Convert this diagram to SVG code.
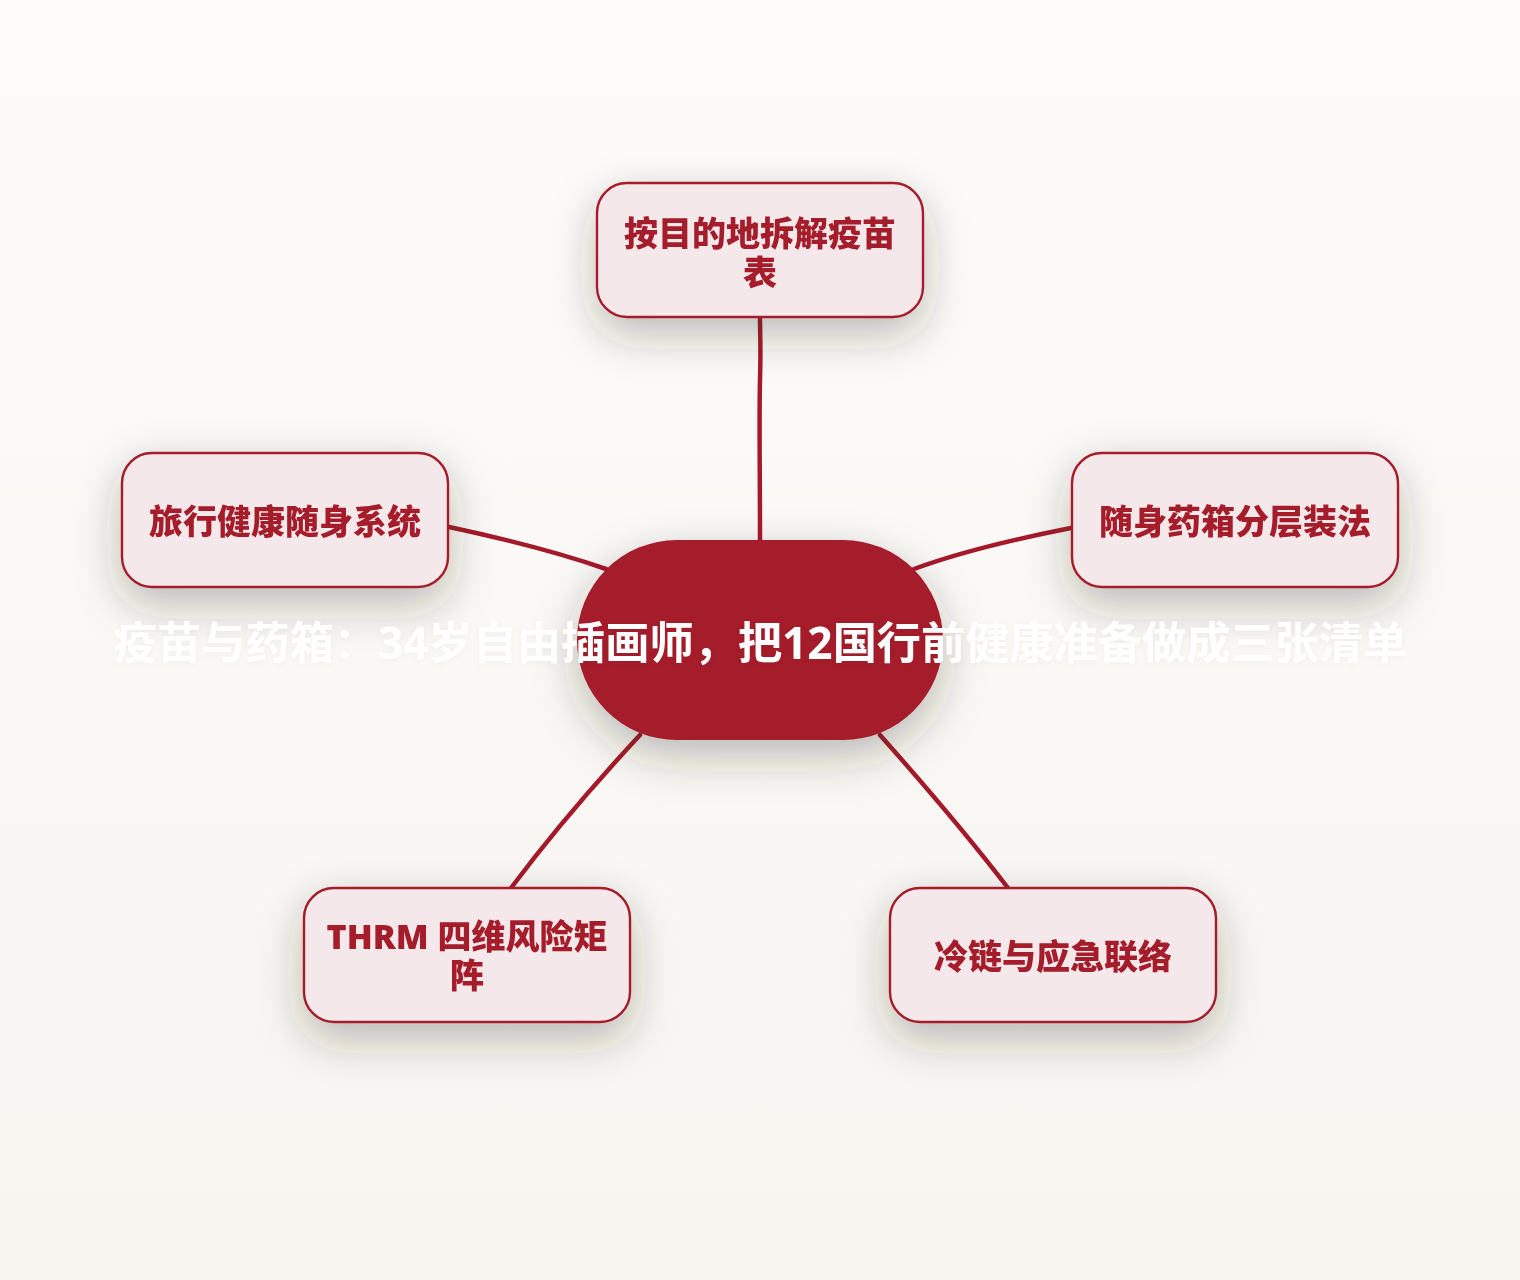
<svg xmlns="http://www.w3.org/2000/svg" width="1520" height="1280" viewBox="0 0 1520 1280">
<defs>
<linearGradient id="bg" x1="0" y1="0" x2="0" y2="1">
<stop offset="0" stop-color="#FDFCFB"/>
<stop offset="1" stop-color="#F7F5F0"/>
</linearGradient>
<filter id="sh" x="-40%" y="-60%" width="180%" height="240%">
<feDropShadow dx="0" dy="16" stdDeviation="22" flood-color="#2a2623" flood-opacity="0.3"/>
</filter>
<filter id="tsh" x="-5%" y="-40%" width="110%" height="190%">
<feDropShadow dx="0" dy="2" stdDeviation="3" flood-color="#000" flood-opacity="0.035"/>
</filter>
<style>
.node{fill:#F5E8EA;stroke:#A51A2A;stroke-width:2.4}
.lbl{font-family:"Noto Sans","Noto Sans CJK SC",sans-serif;font-weight:900;font-size:34px;fill:#A51A2A;text-anchor:middle}
.edge{fill:none;stroke:#A51A2A;stroke-width:4.5;stroke-linecap:round}
.ctext{font-family:"Noto Sans","Noto Sans CJK SC",sans-serif;font-weight:700;font-size:44.2px;fill:#FFFFFF;text-anchor:middle;dominant-baseline:central}
</style>
</defs>
<rect width="1520" height="1280" fill="url(#bg)"/>
<g id="connectors">
<path class="edge" d="M760,540 C760,470 759,420 760,380 C761,350 760,330 760,318"/>
<path class="edge" d="M606,569 C560,553 510,540 449,527"/>
<path class="edge" d="M914,569 C960,552 1010,540 1071,528"/>
<path class="edge" d="M640,735 C600,778 556,828 511,888"/>
<path class="edge" d="M880,735 C920,780 962,828 1008,888"/>
</g>
<g id="node-top" filter="url(#sh)">
<rect class="node" x="597" y="183" width="326" height="134" rx="30"/>
<text class="lbl"><tspan x="760" y="246">按目的地拆解疫苗</tspan><tspan x="760" y="285">表</tspan></text>
</g>
<g id="node-left" filter="url(#sh)">
<rect class="node" x="122" y="453" width="326" height="134" rx="30"/>
<text class="lbl" x="285" y="534">旅行健康随身系统</text>
</g>
<g id="node-right" filter="url(#sh)">
<rect class="node" x="1072" y="453" width="326" height="134" rx="30"/>
<text class="lbl" x="1235" y="534">随身药箱分层装法</text>
</g>
<g id="node-bottom-left" filter="url(#sh)">
<rect class="node" x="304" y="888" width="326" height="134" rx="30"/>
<text class="lbl"><tspan x="467" y="949">THRM 四维风险矩</tspan><tspan x="467" y="988">阵</tspan></text>
</g>
<g id="node-bottom-right" filter="url(#sh)">
<rect class="node" x="890" y="888" width="326" height="134" rx="30"/>
<text class="lbl" x="1053" y="969">冷链与应急联络</text>
</g>
<g id="node-center">
<rect x="577" y="540" width="366" height="200" rx="100" fill="#A51A2A" filter="url(#sh)"/>
<text class="ctext" x="760" y="642" filter="url(#tsh)">疫苗与药箱：34岁自由插画师，把12国行前健康准备做成三张清单</text>
</g>
</svg>
